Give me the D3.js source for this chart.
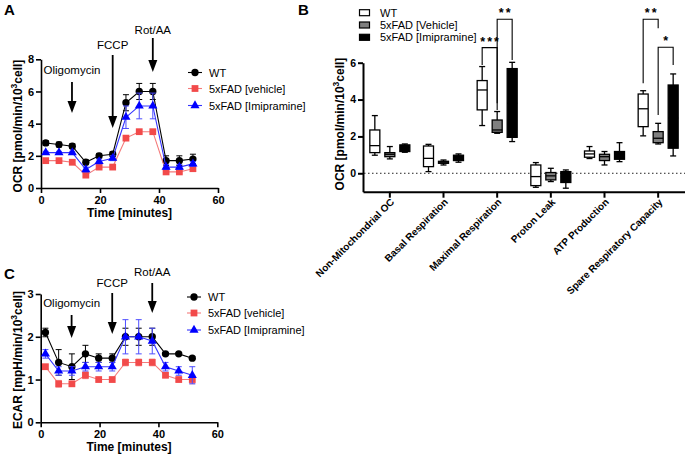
<!DOCTYPE html>
<html><head><meta charset="utf-8">
<script src="https://cdn.jsdelivr.net/npm/d3@7"></script>
<style>body{margin:0;background:#fff}svg{display:block}text{font-family:"Liberation Sans",Arial,sans-serif}</style>
</head><body><svg id="c" width="685" height="456"></svg>
<script>
// ---------- DATA ----------
const times = [1.6,6.1,10.6,15.2,19.7,24.3,28.8,33.3,37.9,42.4,46.9,51.5];
const seriesNames = ["WT","5xFAD [vehicle]","5xFAD [Imipramine]"];
const ocrWT = [2.8,2.7,2.6,1.6,2.0,2.1,5.3,6.0,6.0,1.7,1.7,1.8];
const ocrWTErr = [0.15,0.15,0.15,0.15,0.15,0.15,0.5,0.5,0.5,0.3,0.3,0.3];
const ocrVeh = [1.7,1.7,1.6,0.8,1.3,1.3,3.1,3.5,3.5,1.0,1.0,1.2];
const ocrVehErr = [0.08,0.08,0.08,0.1,0.1,0.1,0.15,0.1,0.1,0.08,0.08,0.1];
const ocrImi = [2.2,2.2,2.2,1.15,1.65,1.85,4.4,5.1,5.1,1.3,1.3,1.5];
const ocrImiErr = [0.08,0.08,0.08,0.15,0.15,0.15,0.7,0.8,0.8,0.15,0.15,0.15];
const ecarWT = [2.1,1.4,1.3,1.6,1.5,1.5,2.0,2.0,2.0,1.6,1.6,1.5];
const ecarWTErr = [0.1,0.3,0.3,0.2,0.1,0.1,0.2,0.2,0.2,0.03,0.03,0.03];
const ecarVeh = [1.3,0.9,0.9,1.1,1.0,1.0,1.4,1.4,1.4,1.1,1.0,1.0];
const ecarVehErr = [0.04,0.08,0.05,0.08,0.03,0.03,0.08,0.08,0.08,0.05,0.05,0.1];
const ecarImi = [1.6,1.2,1.2,1.3,1.3,1.3,2.0,2.0,1.9,1.3,1.2,1.1];
const ecarImiErr = [0.1,0.1,0.1,0.1,0.1,0.1,0.4,0.4,0.3,0.1,0.1,0.2];
const injections = ["Oligomycin","FCCP","Rot/AA"];
const injectionTimes = [10.5,24.3,37.9];
const timeTicks = [0,20,40,60];
const ocrTicks = [0,2,4,6,8];
const ecarTicks = [0,1,2,3];

const categories = ["Non-Mitochondrial OC","Basal Respiration","Maximal Respiration","Proton Leak","ATP Production","Spare Respiratory Capacity"];
const boxGroups = ["WT","5xFAD [Vehicle]","5xFAD [Imipramine]"];
// [min, q1, median, q3, max]
const wtBox = [[0.98,1.12,1.5,2.35,3.13],[0.09,0.36,0.81,1.48,1.57],[2.59,3.44,4.52,5.03,5.79],[-0.76,-0.67,-0.18,0.45,0.58],[0.8,0.87,1.05,1.21,1.45],[2.03,2.53,3.5,4.3,4.48]];
const vehBox = [[0.78,0.9,1.03,1.12,1.45],[0.45,0.54,0.6,0.65,0.72],[2.17,2.22,2.35,2.89,3.35],[-0.45,-0.36,-0.14,0.04,0.27],[0.45,0.69,0.9,1.03,1.18],[1.59,1.66,1.9,2.26,2.71]];
const imiBox = [[1.14,1.18,1.4,1.54,1.59],[0.6,0.69,0.82,0.98,1.05],[1.72,1.95,3.8,5.68,6.02],[-0.81,-0.5,-0.2,0.09,0.18],[0.63,0.76,0.95,1.18,1.66],[0.94,1.36,3.0,4.79,5.39]];
const bTicks = [0,2,4,6];
// significance: category, group a, group b, bracket top, leg end a, leg end b, label
const sigCat = ["Maximal Respiration","Maximal Respiration","Spare Respiratory Capacity","Spare Respiratory Capacity"];
const sigA = [0,1,0,1];
const sigB = [1,2,1,2];
const sigTop = [6.82,8.36,8.36,6.84];
const sigEndA = [5.88,3.8,4.88,3.16];
const sigEndB = [3.44,6.15,7.87,5.88];
const sigLabel = ["***","**","**","*"];

// ---------- DRAW ----------
const svg = d3.select("#c");
const colors = ["#000000","#f24a4a","#0000ff"];
const lineColors = ["#000000","#f47a7a","#3333ff"];
const errColors = ["#000000","#f59a9a","#4d4dff"];
const symbols = [d3.symbolCircle,d3.symbolSquare,d3.symbolTriangle];
const symSizes = [42,46,36];
const intFmt = d3.format("d");

function styleAxis(g, fs){
  g.selectAll("path").attr("stroke","#000").attr("stroke-width",1.6);
  g.selectAll("line").attr("stroke","#000").attr("stroke-width",1.6);
  g.selectAll("text").attr("font-size",fs).attr("font-weight","bold").attr("fill","#000")
    .attr("font-family","Liberation Sans, Arial, sans-serif");
}
function yTitle(x,y,main,tail){
  const t = svg.append("text").attr("transform",`translate(${x},${y}) rotate(-90)`)
    .attr("text-anchor","middle").attr("font-size",12).attr("font-weight","bold");
  t.append("tspan").text(main);
  t.append("tspan").attr("dy",-5).attr("font-size",8.5).text("3");
  t.append("tspan").attr("dy",5).text(tail);
}

function timePanel(opts){
  const {x,y,vals,errs,ticks,title,tail,titleY,ann} = opts;
  const gx = svg.append("g").attr("transform",`translate(0,${y.range()[0]})`)
    .call(d3.axisBottom(x).tickValues(timeTicks).tickFormat(intFmt).tickSize(5).tickPadding(3).tickSizeOuter(0));
  styleAxis(gx,11);
  const gy = svg.append("g").attr("transform",`translate(${x.range()[0]},0)`)
    .call(d3.axisLeft(y).tickValues(ticks).tickFormat(intFmt).tickSize(5).tickPadding(2).tickSizeOuter(0));
  styleAxis(gy,11);
  svg.append("text").attr("x",(x.range()[0]+x.range()[1])/2).attr("y",y.range()[0]+29)
    .attr("text-anchor","middle").attr("font-size",12).attr("font-weight","bold").text("Time [minutes]");
  yTitle(22,titleY,title,tail);
  // series
  [0,1,2].forEach(i=>{
    const g = svg.append("g");
    g.selectAll(null).data(times).enter().append("line")
      .attr("x1",(d)=>x(d)).attr("x2",(d)=>x(d))
      .attr("y1",(d,j)=>y(vals[i][j]-errs[i][j])).attr("y2",(d,j)=>y(vals[i][j]+errs[i][j]))
      .attr("stroke",errColors[i]).attr("stroke-width",1);
    [-1,1].forEach(s=>{
      g.selectAll(null).data(times).enter().append("line")
        .attr("x1",(d)=>x(d)-3).attr("x2",(d)=>x(d)+3)
        .attr("y1",(d,j)=>y(vals[i][j]+s*errs[i][j])).attr("y2",(d,j)=>y(vals[i][j]+s*errs[i][j]))
        .attr("stroke",errColors[i]).attr("stroke-width",1);
    });
    g.append("path").datum(times).attr("fill","none").attr("stroke",lineColors[i]).attr("stroke-width",1.1)
      .attr("d",d3.line().x(d=>x(d)).y((d,j)=>y(vals[i][j])));
    g.selectAll(null).data(times).enter().append("path")
      .attr("transform",(d,j)=>`translate(${x(d)},${y(vals[i][j])})`)
      .attr("d",d3.symbol().type(symbols[i]).size(symSizes[i])).attr("fill",colors[i]);
  });
  // legend
  const lx = opts.legX, ly = opts.legY;
  seriesNames.forEach((n,i)=>{
    const yy = ly[i];
    svg.append("line").attr("x1",lx).attr("x2",lx+14).attr("y1",yy).attr("y2",yy)
      .attr("stroke",lineColors[i]).attr("stroke-width",1.1);
    svg.append("path").attr("transform",`translate(${lx+7},${yy})`)
      .attr("d",d3.symbol().type(symbols[i]).size(symSizes[i])).attr("fill",colors[i]);
    svg.append("text").attr("x",lx+21).attr("y",yy+4).attr("font-size",11).text(n);
  });
  // annotations
  injections.forEach((n,i)=>{
    const a = ann[i], xx = x(injectionTimes[i]);
    svg.append("text").attr("x",xx).attr("y",a[0]+4).attr("text-anchor","middle").attr("font-size",11.5).text(n);
    svg.append("line").attr("x1",xx).attr("x2",xx).attr("y1",a[1]).attr("y2",a[2]-8)
      .attr("stroke","#000").attr("stroke-width",1.8);
    svg.append("path").attr("d",`M${xx-4.5},${a[2]-12}L${xx+4.5},${a[2]-12}L${xx},${a[2]}Z`).attr("fill","#000");
  });
}

const xA = d3.scaleLinear([0,60],[41,218]);
const yA = d3.scaleLinear([0,8],[188,59.3]);
timePanel({x:xA,y:yA,vals:[ocrWT,ocrVeh,ocrImi],errs:[ocrWTErr,ocrVehErr,ocrImiErr],ticks:ocrTicks,
  title:"OCR [pmol/min/10",tail:"cell]",titleY:126,legX:188,legY:[72.5,88.5,105.5],
  ann:[[70,82,113],[45,55,128],[30,38,72]]});

const xC = d3.scaleLinear([0,60],[40.7,217.3]);
const yC = d3.scaleLinear([0,3],[422.3,294]);
timePanel({x:xC,y:yC,vals:[ecarWT,ecarVeh,ecarImi],errs:[ecarWTErr,ecarVehErr,ecarImiErr],ticks:ecarTicks,
  title:"ECAR [mpH/min/10",tail:"cell]",titleY:360,legX:187,legY:[297,313,330],
  ann:[[303,315,338],[283,293,334],[272,283,313]]});

// Panel labels
svg.append("text").attr("x",4).attr("y",15).attr("font-size",15).attr("font-weight","bold").text("A");
svg.append("text").attr("x",298).attr("y",15).attr("font-size",15).attr("font-weight","bold").text("B");
svg.append("text").attr("x",4).attr("y",279).attr("font-size",15).attr("font-weight","bold").text("C");

// ---------- Panel B ----------
const xB = d3.scaleBand(categories,[363,685]);
const gB = d3.scaleBand(boxGroups,[-22.5,22.5]);
const yB = d3.scaleLinear([-1,6],[191.7,62.7]);
const gxB = svg.append("g").attr("transform",`translate(0,${yB(-1)})`)
  .call(d3.axisBottom(xB).tickSize(6).tickSizeOuter(0).tickFormat(""));
styleAxis(gxB,10);
gxB.selectAll("path,line").attr("stroke-width",2);
gxB.selectAll(".tick").append("text").attr("fill","#000")
  .attr("transform","translate(5,11) rotate(-45)").attr("text-anchor","end")
  .attr("font-size",10).attr("font-weight","bold")
  .attr("font-family","Liberation Sans, Arial, sans-serif").text(d=>d);
const gyB = svg.append("g").attr("transform",`translate(363,0)`)
  .call(d3.axisLeft(yB).tickValues(bTicks).tickFormat(intFmt).tickSize(5).tickPadding(2).tickSizeOuter(0));
styleAxis(gyB,10.5);
gyB.selectAll("path,line").attr("stroke-width",2);
svg.append("line").attr("x1",364).attr("x2",685).attr("y1",yB(0)).attr("y2",yB(0))
  .attr("stroke","#222").attr("stroke-width",1).attr("stroke-dasharray","1.5,2.5");
yTitle(344,124,"OCR [pmol/min/10","cell]");

const boxFills = ["#ffffff","#808080","#000000"];
const boxData = [wtBox,vehBox,imiBox];
const bw = 10;
boxGroups.forEach((gname,gi)=>{
  categories.forEach((c,ci)=>{
    const d = boxData[gi][ci];
    const cx = xB(c)+xB.bandwidth()/2 + gB(gname)+gB.bandwidth()/2;
    const g = svg.append("g");
    g.append("line").attr("x1",cx).attr("x2",cx).attr("y1",yB(d[0])).attr("y2",yB(d[4])).attr("stroke","#000").attr("stroke-width",1.3);
    [d[0],d[4]].forEach(v=>g.append("line").attr("x1",cx-3).attr("x2",cx+3).attr("y1",yB(v)).attr("y2",yB(v)).attr("stroke","#000").attr("stroke-width",1.3));
    g.append("rect").attr("x",cx-bw/2).attr("y",yB(d[3])).attr("width",bw).attr("height",yB(d[1])-yB(d[3]))
      .attr("fill",boxFills[gi]).attr("stroke","#000").attr("stroke-width",1.3);
    g.append("line").attr("x1",cx-bw/2).attr("x2",cx+bw/2).attr("y1",yB(d[2])).attr("y2",yB(d[2])).attr("stroke","#000").attr("stroke-width",1.3);
  });
});
// significance brackets
sigCat.forEach((c,i)=>{
  const base = xB(c)+xB.bandwidth()/2;
  const xa = base+gB(boxGroups[sigA[i]])+gB.bandwidth()/2;
  const xb = base+gB(boxGroups[sigB[i]])+gB.bandwidth()/2;
  svg.append("path").attr("fill","none").attr("stroke","#000").attr("stroke-width",1.1)
    .attr("d",`M${xa},${yB(sigEndA[i])}V${yB(sigTop[i])}H${xb}V${yB(sigEndB[i])}`);
  svg.append("text").attr("x",(xa+xb)/2+1).attr("y",yB(sigTop[i])-2).attr("text-anchor","middle")
    .attr("font-size",12.5).attr("font-weight","bold").attr("letter-spacing",2).text(sigLabel[i]);
});
// legend B
const legBY = [12.7,25,37.3];
boxGroups.forEach((n,i)=>{
  svg.append("rect").attr("x",359.5).attr("y",legBY[i]-3).attr("width",10).attr("height",6)
    .attr("fill",boxFills[i]).attr("stroke","#000").attr("stroke-width",1.2);
  svg.append("text").attr("x",380).attr("y",legBY[i]+4).attr("font-size",11).text(n);
});
</script></body></html>
